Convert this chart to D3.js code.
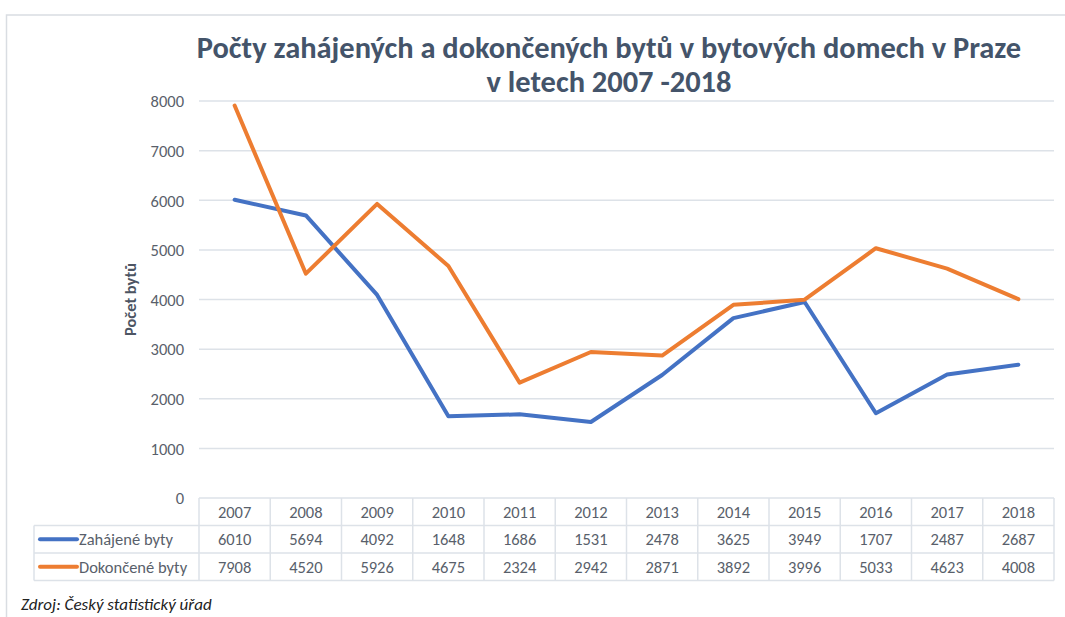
<!DOCTYPE html>
<html>
<head>
<meta charset="utf-8">
<script src="https://cdn.jsdelivr.net/npm/d3@7"></script>
<style>
  body { margin: 0; background: #fff; }
  text { font-family: Carlito, Lato, "Open Sans", sans-serif; }
</style>
</head>
<body>
<div id="chart"></div>
<script>
const years = ["2007", "2008", "2009", "2010", "2011", "2012", "2013", "2014", "2015", "2016", "2017", "2018"];
const zahajene = [6010, 5694, 4092, 1648, 1686, 1531, 2478, 3625, 3949, 1707, 2487, 2687];
const dokoncene = [7908, 4520, 5926, 4675, 2324, 2942, 2871, 3892, 3996, 5033, 4623, 4008];
const seriesNames = ["Zahájené byty", "Dokončené byty"];
const seriesColors = ["#4472c4", "#ed7d31"];
const yTicks = [0, 1000, 2000, 3000, 4000, 5000, 6000, 7000, 8000];
const titleLines = ["Počty zahájených a dokončených bytů v bytových domech v Praze", "v letech 2007 -2018"];

const W = 1065, H = 617;
const plot = { left: 199, right: 1054, top: 101, bottom: 498 };
const rowH = 27.5;
const legendLeft = 34;
const fs = 16.5;
const textColor = "#595f6b";

const svg = d3.select("#chart").append("svg")
    .attr("width", W)
    .attr("height", H);

// chart frame
svg.append("path")
    .attr("d", `M${W + 2},15 H6.5 V${H + 2}`)
    .attr("fill", "none")
    .attr("stroke", "#d9dde2")
    .attr("stroke-width", 1.5);

const x = d3.scaleBand().domain(years).range([plot.left, plot.right]);
const y = d3.scaleLinear().domain([0, 8000]).range([plot.bottom, plot.top]);

// gridlines
svg.append("g")
    .selectAll("line")
    .data(yTicks.filter(d => d > 0))
    .join("line")
    .attr("x1", plot.left)
    .attr("x2", plot.right)
    .attr("y1", d => y(d))
    .attr("y2", d => y(d))
    .attr("stroke", "#dde2e8")
    .attr("stroke-width", 1.5);

// y axis labels
const yAxis = d3.axisLeft(y).tickValues(yTicks).tickFormat(d3.format("d")).tickSize(0).tickPadding(0);
const ya = svg.append("g")
    .attr("transform", `translate(184,0)`)
    .call(yAxis);
ya.select(".domain").remove();
ya.selectAll("text")
    .attr("font-size", fs)
    .attr("fill", textColor)
    .attr("dy", "0.35em")
    .style("font-family", "Carlito, Lato, sans-serif");

svg.append("text")
    .attr("transform", `translate(136,${(plot.top + plot.bottom) / 2}) rotate(-90)`)
    .attr("text-anchor", "middle")
    .attr("font-size", 16.5)
    .attr("font-weight", "bold")
    .attr("fill", "#4d5563")
    .text("Počet bytů");

// lines
const allSeries = [zahajene, dokoncene];
const line = d3.line()
    .x((d, i) => x(years[i]) + x.bandwidth() / 2)
    .y(d => y(d));

svg.append("g")
    .selectAll("path")
    .data(allSeries)
    .join("path")
    .attr("d", line)
    .attr("fill", "none")
    .attr("stroke", (d, i) => seriesColors[i])
    .attr("stroke-width", 4)
    .attr("stroke-linejoin", "round")
    .attr("stroke-linecap", "round");

// data table
const tbl = svg.append("g");
const gridColor = "#dde2e8";
const tblBottom = plot.bottom + rowH * 3;

tbl.append("line")
    .attr("x1", plot.left).attr("x2", plot.right)
    .attr("y1", plot.bottom).attr("y2", plot.bottom)
    .attr("stroke", gridColor).attr("stroke-width", 1.5);
[1, 2, 3].forEach(k => {
    tbl.append("line")
        .attr("x1", legendLeft).attr("x2", plot.right)
        .attr("y1", plot.bottom + rowH * k).attr("y2", plot.bottom + rowH * k)
        .attr("stroke", gridColor).attr("stroke-width", 1.5);
});
tbl.append("line")
    .attr("x1", legendLeft).attr("x2", legendLeft)
    .attr("y1", plot.bottom + rowH).attr("y2", tblBottom)
    .attr("stroke", gridColor).attr("stroke-width", 1.5);
tbl.selectAll(".vline")
    .data(years.concat(["end"]))
    .join("line")
    .attr("class", "vline")
    .attr("x1", (d, i) => plot.left + i * x.bandwidth())
    .attr("x2", (d, i) => plot.left + i * x.bandwidth())
    .attr("y1", plot.bottom)
    .attr("y2", tblBottom)
    .attr("stroke", gridColor).attr("stroke-width", 1.5);

// header
tbl.selectAll(".yr")
    .data(years)
    .join("text")
    .attr("class", "yr")
    .attr("x", d => x(d) + x.bandwidth() / 2)
    .attr("y", plot.bottom + rowH / 2)
    .attr("dy", "0.36em")
    .attr("text-anchor", "middle")
    .attr("font-size", fs)
    .attr("fill", textColor)
    .text(d => d);

// value rows
allSeries.forEach((vals, s) => {
    const rowY = plot.bottom + rowH * (s + 1) + rowH / 2;
    tbl.append("line")
        .attr("x1", legendLeft + 6).attr("x2", legendLeft + 43)
        .attr("y1", rowY).attr("y2", rowY)
        .attr("stroke", seriesColors[s])
        .attr("stroke-width", 4)
        .attr("stroke-linecap", "round");
    tbl.append("text")
        .attr("x", legendLeft + 45)
        .attr("y", rowY)
        .attr("dy", "0.36em")
        .attr("font-size", fs)
        .attr("fill", textColor)
        .text(seriesNames[s]);
    tbl.selectAll(".v" + s)
        .data(vals)
        .join("text")
        .attr("class", "v" + s)
        .attr("x", (d, i) => x(years[i]) + x.bandwidth() / 2)
        .attr("y", rowY)
        .attr("dy", "0.36em")
        .attr("text-anchor", "middle")
        .attr("font-size", fs)
        .attr("fill", textColor)
        .text(d => d);
});

// title
const title = svg.append("g");
titleLines.forEach((t, i) => {
    title.append("text")
        .attr("x", 609)
        .attr("y", 58 + i * 34)
        .attr("text-anchor", "middle")
        .attr("font-size", 26)
        .attr("font-weight", "bold")
        .attr("fill", "#44546a")
        .text(t);
});
// fit first line to the reference width
const t0 = title.select("text").node();
const w0 = t0.getComputedTextLength();
const k = 825 / w0;
title.selectAll("text").attr("font-size", 26 * Math.min(k, 1.2));

// source
svg.append("text")
    .attr("x", 21)
    .attr("y", 610)
    .attr("font-size", 17)
    .attr("font-style", "italic")
    .attr("fill", "#222")
    .text("Zdroj: Český statistický úřad");
</script>
</body>
</html>
